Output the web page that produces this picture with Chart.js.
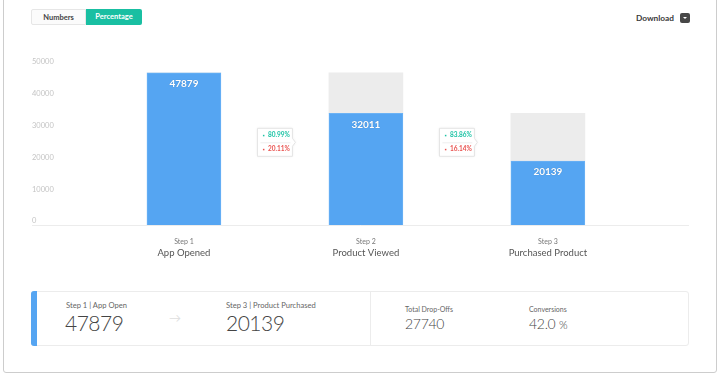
<!DOCTYPE html>
<html>
<head>
<meta charset="utf-8">
<script src="https://cdn.jsdelivr.net/npm/chart.js@4/dist/chart.umd.min.js"></script>
<style>
  html, body { margin: 0; padding: 0; background: #fff; }
  body { width: 720px; height: 377px; position: relative; overflow: hidden; font-family: Lato, "Open Sans", sans-serif; }
  .card { position: absolute; left: 3px; top: -4px; width: 714px; height: 377px; border: 1px solid #cdcdcd; box-sizing: border-box; border-radius: 3px; }
  .toggle { position: absolute; left: 31px; top: 9px; display: flex; font-size: 7.5px; font-weight: bold; }
  .toggle div { width: 55px; height: 16px; line-height: 16px; text-align: center; box-sizing: border-box; }
  .btn-off { border: 1px solid #e6e6e6; color: #444; background: #fbfbfb; border-radius: 2px 0 0 2px; }
  .btn-on { background: #19bfa2; color: #fff; border-radius: 0 2px 2px 0; width: 56px !important; }
  .download { position: absolute; left: 636px; top: 12px; font-size: 8.3px; font-weight: bold; color: #3a3a3a; line-height: 12px; }
  .dl-icon { position: absolute; left: 680px; top: 13px; width: 10px; height: 10px; background: #474747; border-radius: 2px; }
  .dl-icon:after { content: ""; position: absolute; left: 3px; top: 4px; border-left: 2px solid transparent; border-right: 2px solid transparent; border-top: 2.5px solid #fff; }
  #wrap { position: absolute; left: 0; top: 40px; width: 720px; height: 230px; }
  .summary { position: absolute; left: 31px; top: 291px; width: 658px; height: 55px; border: 1px solid #ececec; box-sizing: border-box; border-radius: 3px; }
  .stripe { position: absolute; left: 31px; top: 291px; width: 6px; height: 55px; background: #55a5f2; border-radius: 3px 0 0 3px; }
  .divider { position: absolute; left: 370px; top: 291px; width: 1px; height: 55px; background: #ececec; }
  .t { position: absolute; white-space: nowrap; color: #555; }
  .small { font-size: 7.6px; line-height: 10px; color: #666; }
  .small2 { font-size: 7px; line-height: 10px; color: #666; }
  .big { font-size: 21px; line-height: 24px; color: #444; font-weight: 300; letter-spacing: -0.5px; }
  .mid { font-size: 14px; line-height: 16px; color: #444; font-weight: 300; letter-spacing: -0.3px; }
  .arrow { font-size: 12px; line-height: 12px; color: #dedede; }
</style>
</head>
<body>
<div class="card"></div>
<div class="toggle"><div class="btn-off">Numbers</div><div class="btn-on">Percentage</div></div>
<div class="download">Download</div>
<div class="dl-icon"></div>
<div id="wrap"><canvas id="funnel"></canvas></div>

<div class="summary"></div>
<div class="stripe"></div>
<div class="divider"></div>
<div class="t small" style="left:66px; top:300px;">Step 1 | App Open</div>
<div class="t big" style="left:65px; top:311px;">47879</div>
<div class="t arrow" style="left:169px; top:312px;">&#8594;</div>
<div class="t small" style="left:226px; top:300px;">Step 3 | Product Purchased</div>
<div class="t big" style="left:226px; top:311px;">20139</div>
<div class="t small2" style="left:405px; top:304px;">Total Drop-Offs</div>
<div class="t mid" style="left:405px; top:316px;">27740</div>
<div class="t small2" style="left:529px; top:304px;">Conversions</div>
<div class="t mid" style="left:529px; top:316px;">42.0 <span style="font-size:11px">%</span></div>

<script>
const steps = ["Step 1", "Step 2", "Step 3"];
const stepNames = ["App Opened", "Product Viewed", "Purchased Product"];
const stepPositions = [1, 2, 3];
// numbers printed on the bars
const users = [47879, 32011, 20139];
// bar heights as drawn in the picture (step 2 is drawn taller than its label)
const barHeights = [47879, 35100, 20139];
const dropOffs = [0, 12779, 14961];
const convertedPct = ["80.99%", "83.86%"];
const droppedPct = ["20.11%", "16.14%"];

const blue = "#55a5f2";
const grey = "#ececec";
const fontFamily = "Lato, 'Open Sans', sans-serif";

const toPoints = (values) => values.map((v, i) => ({ x: stepPositions[i], y: v }));
const stepTicks = (scale) => {
  scale.ticks = stepPositions.map((v) => ({ value: v }));
};

// white numbers on the blue bars and the small % boxes between steps
const funnelLabels = {
  id: "funnelLabels",
  afterDatasetsDraw(chart) {
    const ctx = chart.ctx;
    const bars = chart.getDatasetMeta(0).data;
    ctx.save();
    ctx.textAlign = "center";
    ctx.textBaseline = "middle";
    ctx.font = "bold 10px " + fontFamily;
    ctx.fillStyle = "#fff";
    ctx.shadowColor = "rgba(0,0,0,0.25)";
    ctx.shadowBlur = 1;
    bars.forEach((bar, i) => {
      ctx.fillText(users[i], bar.x, bar.y + 11);
    });
    ctx.restore();

    const area = chart.chartArea;
    const cy = area.top + area.height * 0.48;
    for (let i = 0; i < bars.length - 1; i++) {
      const cx = (bars[i].x + bars[i + 1].x) / 2;
      const w = 35, h = 28;
      const l = cx - w / 2, t = cy - h / 2;
      ctx.save();
      ctx.shadowColor = "rgba(0,0,0,0.08)";
      ctx.shadowBlur = 3;
      ctx.fillStyle = "#fff";
      ctx.strokeStyle = "#e4e4e4";
      ctx.lineWidth = 1;
      ctx.beginPath();
      ctx.moveTo(l, t);
      ctx.lineTo(l + w, t);
      ctx.lineTo(l + w, cy - 4);
      ctx.lineTo(l + w + 3, cy);
      ctx.lineTo(l + w, cy + 4);
      ctx.lineTo(l + w, t + h);
      ctx.lineTo(l, t + h);
      ctx.closePath();
      ctx.fill();
      ctx.shadowBlur = 0;
      ctx.stroke();
      ctx.strokeStyle = "#eeeeee";
      ctx.beginPath();
      ctx.moveTo(l + 3, cy + 0.5);
      ctx.lineTo(l + w - 2, cy + 0.5);
      ctx.stroke();
      ctx.font = "bold 6.5px " + fontFamily;
      ctx.textBaseline = "middle";
      ctx.textAlign = "left";
      ctx.fillStyle = "#1cc3a5";
      ctx.fillRect(l + 5.5, cy - 7.5, 1.5, 1.5);
      ctx.fillText(convertedPct[i], l + 10.5, cy - 7);
      ctx.fillStyle = "#e9524f";
      ctx.fillRect(l + 5.5, cy + 6.5, 1.5, 1.5);
      ctx.fillText(droppedPct[i], l + 10.5, cy + 7);
      ctx.restore();
    }
  },
};

const ctx = document.getElementById("funnel").getContext("2d");
const config = {
  type: "bar",
  data: {
    datasets: [
      {
        label: "Users",
        data: toPoints(barHeights),
        backgroundColor: blue,
        borderColor: "#6bb2f5",
        borderWidth: { top: 1, left: 1, right: 1, bottom: 0 },
        barThickness: 74,
      },
      {
        label: "Drop-offs",
        data: toPoints(dropOffs),
        backgroundColor: grey,
        barThickness: 74,
      },
    ],
  },
  options: {
    responsive: true,
    maintainAspectRatio: false,
    animation: false,
    layout: { padding: { left: 32, right: 32, top: 26, bottom: 7 } },
    plugins: {
      legend: { display: false },
      tooltip: { enabled: false },
    },
    scales: {
      x: {
        type: "linear",
        stacked: true,
        offset: false,
        min: 0.165,
        max: 3.77,
        weight: 0,
        afterBuildTicks: stepTicks,
        afterFit: (scale) => { scale.height = 22; },
        grid: { display: false, drawTicks: false },
        border: { display: true, color: "#ececec" },
        ticks: {
          padding: 12.5,
          color: "#777",
          font: { family: fontFamily, size: 7, lineHeight: 1.2 },
          callback: (v) => steps[stepPositions.indexOf(v)],
        },
      },
      x2: {
        type: "linear",
        position: "bottom",
        offset: false,
        min: 0.165,
        max: 3.77,
        weight: 1,
        afterBuildTicks: stepTicks,
        afterFit: (scale) => { scale.height = 16; },
        grid: { display: false, drawTicks: false },
        border: { display: false },
        ticks: {
          padding: 1,
          color: "#555",
          font: { family: fontFamily, size: 9.5, lineHeight: 1 },
          callback: (v) => stepNames[stepPositions.indexOf(v)],
        },
      },
      y: {
        stacked: true,
        min: 0,
        max: 50000,
        grid: { display: false, drawTicks: false },
        border: { display: false },
        ticks: {
          stepSize: 10000,
          mirror: true,
          padding: 0,
          labelOffset: -4,
          color: "#c4c4c4",
          font: { family: fontFamily, size: 7.5 },
          callback: (v) => String(v),
        },
      },
    },
  },
  plugins: [funnelLabels],
};
new Chart(ctx, config);
</script>
</body>
</html>
